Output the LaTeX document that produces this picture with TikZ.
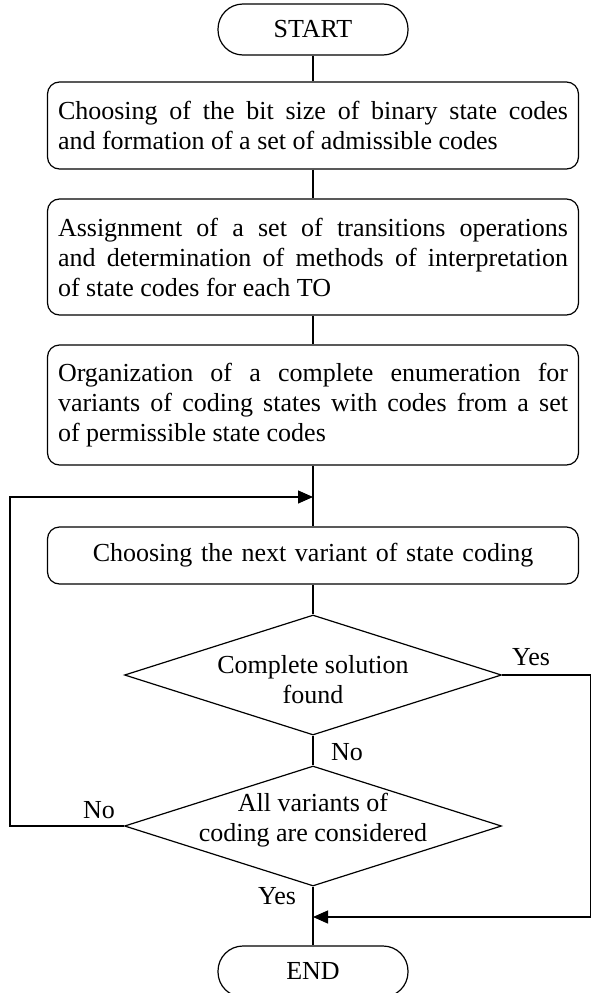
\documentclass[tikz,border=0pt]{standalone}
\usepackage{fontspec}
\setmainfont{Liberation Serif}
\usetikzlibrary{shapes.geometric,arrows.meta}

\begin{document}
\begin{tikzpicture}[x=1pt,y=-1pt,line width=1.2pt,
  every node/.style={font=\fontsize{26}{30}\selectfont},
  terminal/.style={draw,rectangle,rounded corners=25pt,minimum width=190pt,
    minimum height=51pt,inner sep=0pt},
  procbox/.style={draw,rectangle,rounded corners=12pt,text width=510pt,
    inner xsep=10.5pt,inner ysep=0pt,align=justify},
  decision/.style={draw,diamond,minimum width=377pt,minimum height=120pt,
    inner sep=0pt},
  flow/.style={-{Triangle[length=15pt,width=13pt]}}]

\useasboundingbox (0,0) rectangle (592,993);

% main column
\node[terminal] (start) at (313,29.5) {START};
\node[procbox,minimum height=87pt] (b1) at (313,125.5)
  {Choosing of the bit size of binary state codes\linebreak
   and formation of a set of admissible codes};
\node[procbox,minimum height=116pt] (b2) at (313,257)
  {Assignment of a set of transitions operations\linebreak
   and determination of methods of interpretation\linebreak
   of state codes for each TO};
\node[procbox,minimum height=120pt] (b3) at (313,405)
  {Organization of a complete enumeration for\linebreak
   variants of coding states with codes from a set\linebreak
   of permissible state codes};
\node[procbox,align=center,minimum height=57pt] (b4) at (313,555.5)
  {Choosing the next variant of state coding};

\node[decision] (d1) at (313,675) {};
\node[align=center] (t1) at (313,680) {Complete solution\\found};
\node[decision] (d2) at (313,826) {};
\node[align=center] (t2) at (313,820) {All variants of\\coding are considered};

\node[terminal] (end) at (313,971.5) {END};

% junction points and outer return paths
\coordinate (jin) at (313,497);
\coordinate (jout) at (313,917);
\coordinate (lft) at (10,497);
\coordinate (rgt) at (590.8,917);

\draw (start.south) -- (b1.north);
\draw (b1.south) -- (b2.north);
\draw (b2.south) -- (b3.north);
\draw (b3.south) -- (b4.north);
\draw (b4.south) -- (d1.north);
\draw (d1.south) -- (d2.north);
\draw (d2.south) -- (end.north);

\draw[flow] (d2.west) -| (lft) -- (jin);
\draw[flow] (d1.east) -| (rgt) -- (jout);

% branch labels
\node (yes1) at (531,657) {Yes};
\node (no1) at (347,752) {No};
\node (no2) at (99,810) {No};
\node (yes2) at (277,896) {Yes};

\end{tikzpicture}
\end{document}
